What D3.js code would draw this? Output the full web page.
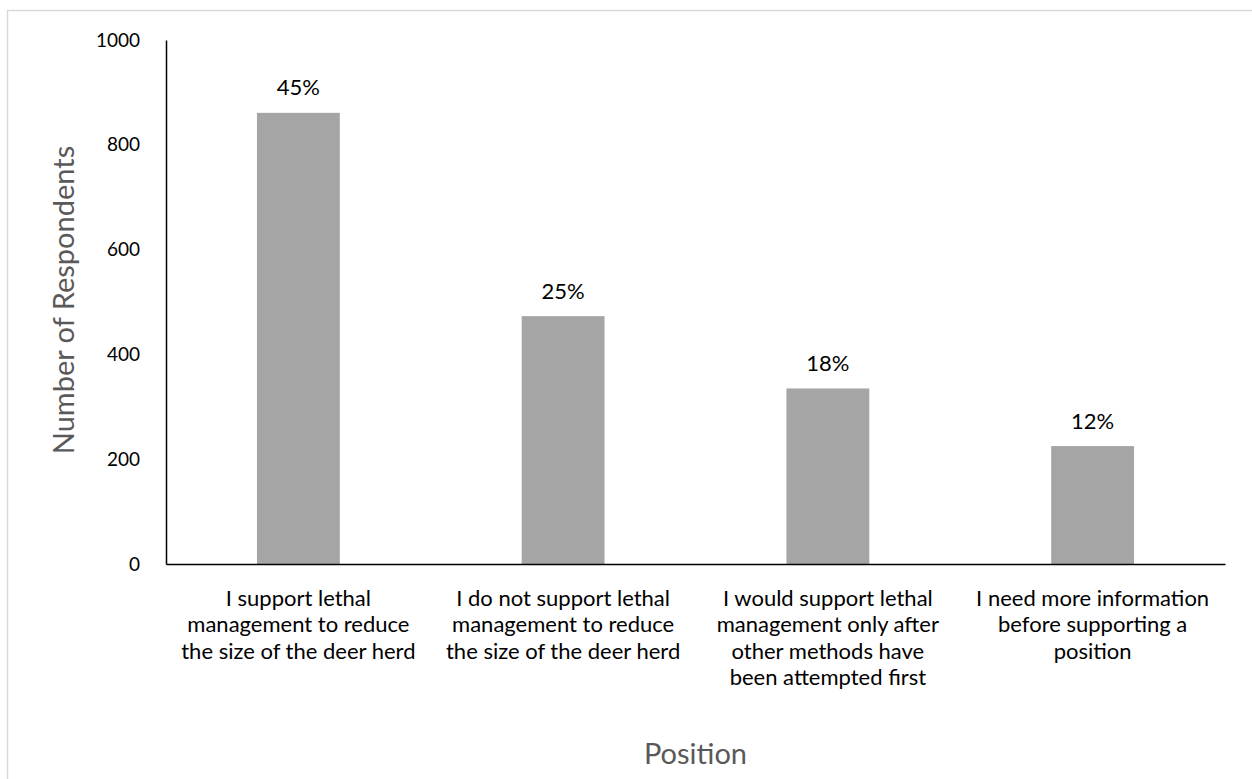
<!DOCTYPE html>
<html>
<head>
<meta charset="utf-8">
<script src="https://cdn.jsdelivr.net/npm/d3@7"></script>
<style>
  html, body { margin: 0; padding: 0; background: #fff; }
  svg { display: block; }
  text { font-family: Lato, "Open Sans", sans-serif; }
</style>
</head>
<body>
<svg id="chart" width="1252" height="779"></svg>
<script>
const categories = [
  ["I support lethal", "management to reduce", "the size of the deer herd"],
  ["I do not support lethal", "management to reduce", "the size of the deer herd"],
  ["I would support lethal", "management only after", "other methods have", "been attempted first"],
  ["I need more information", "before supporting a", "position"]
];
const values = [861, 473, 335, 225];
const percentLabels = ["45%", "25%", "18%", "12%"];
const yTicks = [0, 200, 400, 600, 800, 1000];
const yTitle = "Number of Respondents";
const xTitle = "Position";

const svg = d3.select("#chart");
const W = 1252, H = 779;
const margin = { left: 166, right: 27, top: 40, bottom: 215 };
const plotW = W - margin.left - margin.right;
const plotH = H - margin.top - margin.bottom;

// outer chart border
svg.append("rect")
  .attr("x", 7.5).attr("y", 10.5)
  .attr("width", W).attr("height", H)
  .attr("fill", "none").attr("stroke", "#d9d9d9").attr("stroke-width", 1.5);

const g = svg.append("g").attr("transform", `translate(${margin.left},${margin.top})`);

const idx = categories.map((d, i) => i);
const x = d3.scaleBand().domain(idx).range([0, plotW]).paddingInner(0.687).paddingOuter(0.3435);
const y = d3.scaleLinear().domain([0, 1000]).range([plotH, 0]);

// bars
g.selectAll("rect.bar").data(values).join("rect")
  .attr("class", "bar")
  .attr("x", (d, i) => x(i))
  .attr("width", x.bandwidth())
  .attr("y", d => y(d))
  .attr("height", d => plotH - y(d))
  .attr("fill", "#a5a5a5");

// percent labels
g.selectAll("text.pct").data(values).join("text")
  .attr("class", "pct")
  .attr("x", (d, i) => x(i) + x.bandwidth() / 2)
  .attr("y", d => y(d) - 26)
  .attr("text-anchor", "middle")
  .attr("dominant-baseline", "central")
  .attr("font-size", 22)
  .attr("fill", "#000")
  .text((d, i) => percentLabels[i]);

// y axis
const yAxis = d3.axisLeft(y).tickValues(yTicks).tickSize(0).tickPadding(26).tickFormat(d3.format("d"));
const ya = g.append("g").call(yAxis);
ya.select(".domain").attr("stroke", "#000").attr("stroke-width", 1.5);
ya.selectAll("text").attr("font-size", 19).attr("fill", "#000").style("font-family", "Lato, sans-serif");

// x axis
const xAxis = d3.axisBottom(x).tickSize(0).tickFormat("");
const xa = g.append("g").attr("transform", `translate(0,${plotH})`).call(xAxis);
xa.select(".domain").attr("stroke", "#000").attr("stroke-width", 1.5);

// category labels
const catG = g.append("g").attr("transform", `translate(0,${plotH})`);
categories.forEach((lines, i) => {
  const t = catG.append("text")
    .attr("x", x(i) + x.bandwidth() / 2)
    .attr("y", 33)
    .attr("text-anchor", "middle")
    .attr("font-size", 22)
    .attr("fill", "#000");
  lines.forEach((ln, j) => {
    t.append("tspan")
      .attr("x", x(i) + x.bandwidth() / 2)
      .attr("dy", j === 0 ? 0 : 26.5)
      .attr("dominant-baseline", "central")
      .text(ln);
  });
});

// axis titles
svg.append("text")
  .attr("transform", `translate(62,300) rotate(-90)`)
  .attr("text-anchor", "middle")
  .attr("dominant-baseline", "central")
  .attr("font-size", 29)
  .attr("fill", "#595959")
  .text(yTitle);

svg.append("text")
  .attr("x", margin.left + plotW / 2)
  .attr("y", 752)
  .attr("text-anchor", "middle")
  .attr("dominant-baseline", "central")
  .attr("font-size", 29)
  .attr("fill", "#595959")
  .text(xTitle);
</script>
</body>
</html>
